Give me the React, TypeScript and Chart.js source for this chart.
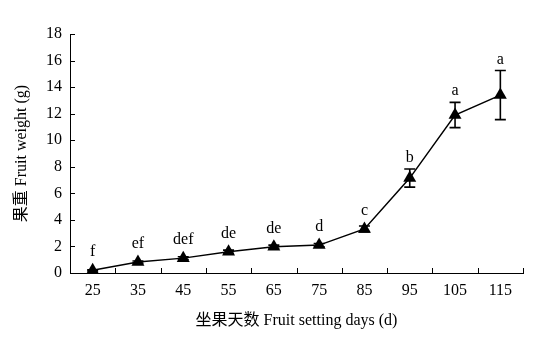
import React, { useEffect, useRef } from "react";
import { Chart, registerables } from "chart.js";

Chart.register(...registerables);

const days = ["25", "35", "45", "55", "65", "75", "85", "95", "105", "115"];
const weights = [0.2, 0.82, 1.12, 1.6, 1.98, 2.1, 3.32, 7.15, 11.9, 13.4];
const errors = [0.05, 0.08, 0.1, 0.12, 0.12, 0.12, 0.22, 0.68, 0.95, 1.85];
const letters = ["f", "ef", "def", "de", "de", "d", "c", "b", "a", "a"];
const yTicks = [0, 2, 4, 6, 8, 10, 12, 14, 16, 18];

const FONT = "'Liberation Serif', 'Noto Sans CJK SC', serif";

const extrasPlugin = {
  id: "extras",
  afterDatasetsDraw(chart: any) {
    const ctx = chart.ctx;
    const x = chart.scales.x;
    const y = chart.scales.y;
    const area = chart.chartArea;
    ctx.save();
    ctx.strokeStyle = "#000";
    ctx.lineWidth = 1;
    for (let i = 0; i <= days.length; i++) {
      const px = Math.round(x.getPixelForValue(i - 0.5)) + 0.5;
      ctx.beginPath();
      ctx.moveTo(px, area.bottom);
      ctx.lineTo(px, area.bottom - 5);
      ctx.stroke();
    }
    for (const v of yTicks) {
      const py = Math.round(y.getPixelForValue(v)) + 0.5;
      ctx.beginPath();
      ctx.moveTo(area.left, py);
      ctx.lineTo(area.left + 5, py);
      ctx.stroke();
    }
    ctx.lineWidth = 1.6;
    const cap = 5.5;
    for (let i = 0; i < weights.length; i++) {
      const px = x.getPixelForValue(i);
      const top = y.getPixelForValue(weights[i] + errors[i]);
      const bot = y.getPixelForValue(weights[i] - errors[i]);
      ctx.beginPath();
      ctx.moveTo(px, top);
      ctx.lineTo(px, bot);
      ctx.moveTo(px - cap, top);
      ctx.lineTo(px + cap, top);
      ctx.moveTo(px - cap, bot);
      ctx.lineTo(px + cap, bot);
      ctx.stroke();
    }
    ctx.fillStyle = "#000";
    ctx.font = "16px " + FONT;
    ctx.textAlign = "center";
    ctx.textBaseline = "alphabetic";
    for (let i = 0; i < weights.length; i++) {
      const px = x.getPixelForValue(i);
      const top = y.getPixelForValue(weights[i] + errors[i]);
      const pt = y.getPixelForValue(weights[i]) - 7;
      const base = Math.min(top, pt) - 7;
      ctx.fillText(letters[i], px, base);
    }
    ctx.restore();
  },
};

export default function App() {
  const ref = useRef<HTMLCanvasElement>(null);
  useEffect(() => {
    document.body.style.margin = "0";
    const chart = new Chart(ref.current as HTMLCanvasElement, {
      type: "line",
      data: {
        labels: days,
        datasets: [
          {
            data: weights,
            borderColor: "#000",
            borderWidth: 1.5,
            backgroundColor: "#000",
            pointStyle: "triangle",
            pointRadius: 7.5,
            pointBackgroundColor: "#000",
            pointBorderColor: "#000",
            pointBorderWidth: 0,
            tension: 0,
          },
        ],
      },
      options: {
        responsive: false,
        animation: false,
        layout: { padding: { top: 34, right: 36, left: 0, bottom: 0 } },
        plugins: { legend: { display: false }, tooltip: { enabled: false } },
        scales: {
          x: {
            type: "category",
            offset: true,
            grid: { display: false, drawTicks: false, offset: true },
            border: { display: true, color: "#000", width: 1 },
            ticks: {
              color: "#000",
              font: { family: FONT, size: 16 },
              padding: 8,
              maxRotation: 0,
              autoSkip: false,
            },
            title: {
              display: true,
              text: "坐果天数 Fruit setting days (d)",
              color: "#000",
              font: { family: FONT, size: 16 },
              padding: { top: 0, bottom: 10 },
            },
            afterFit(scale: any) {
              scale.height = 67;
            },
          },
          y: {
            min: 0,
            max: 18,
            grid: { display: false, drawTicks: false },
            border: { display: true, color: "#000", width: 1 },
            ticks: {
              stepSize: 2,
              color: "#000",
              font: { family: FONT, size: 16 },
              padding: 8,
            },
            title: {
              display: true,
              text: "果重 Fruit weight (g)",
              color: "#000",
              font: { family: FONT, size: 16 },
              padding: { top: 12, bottom: 0 },
            },
            afterFit(scale: any) {
              scale.width = 70;
            },
          },
        },
      },
      plugins: [extrasPlugin],
    });
    return () => chart.destroy();
  }, []);
  return (
    <div style={{ width: 559, height: 340 }}>
      <canvas ref={ref} width={559} height={340} />
    </div>
  );
}
